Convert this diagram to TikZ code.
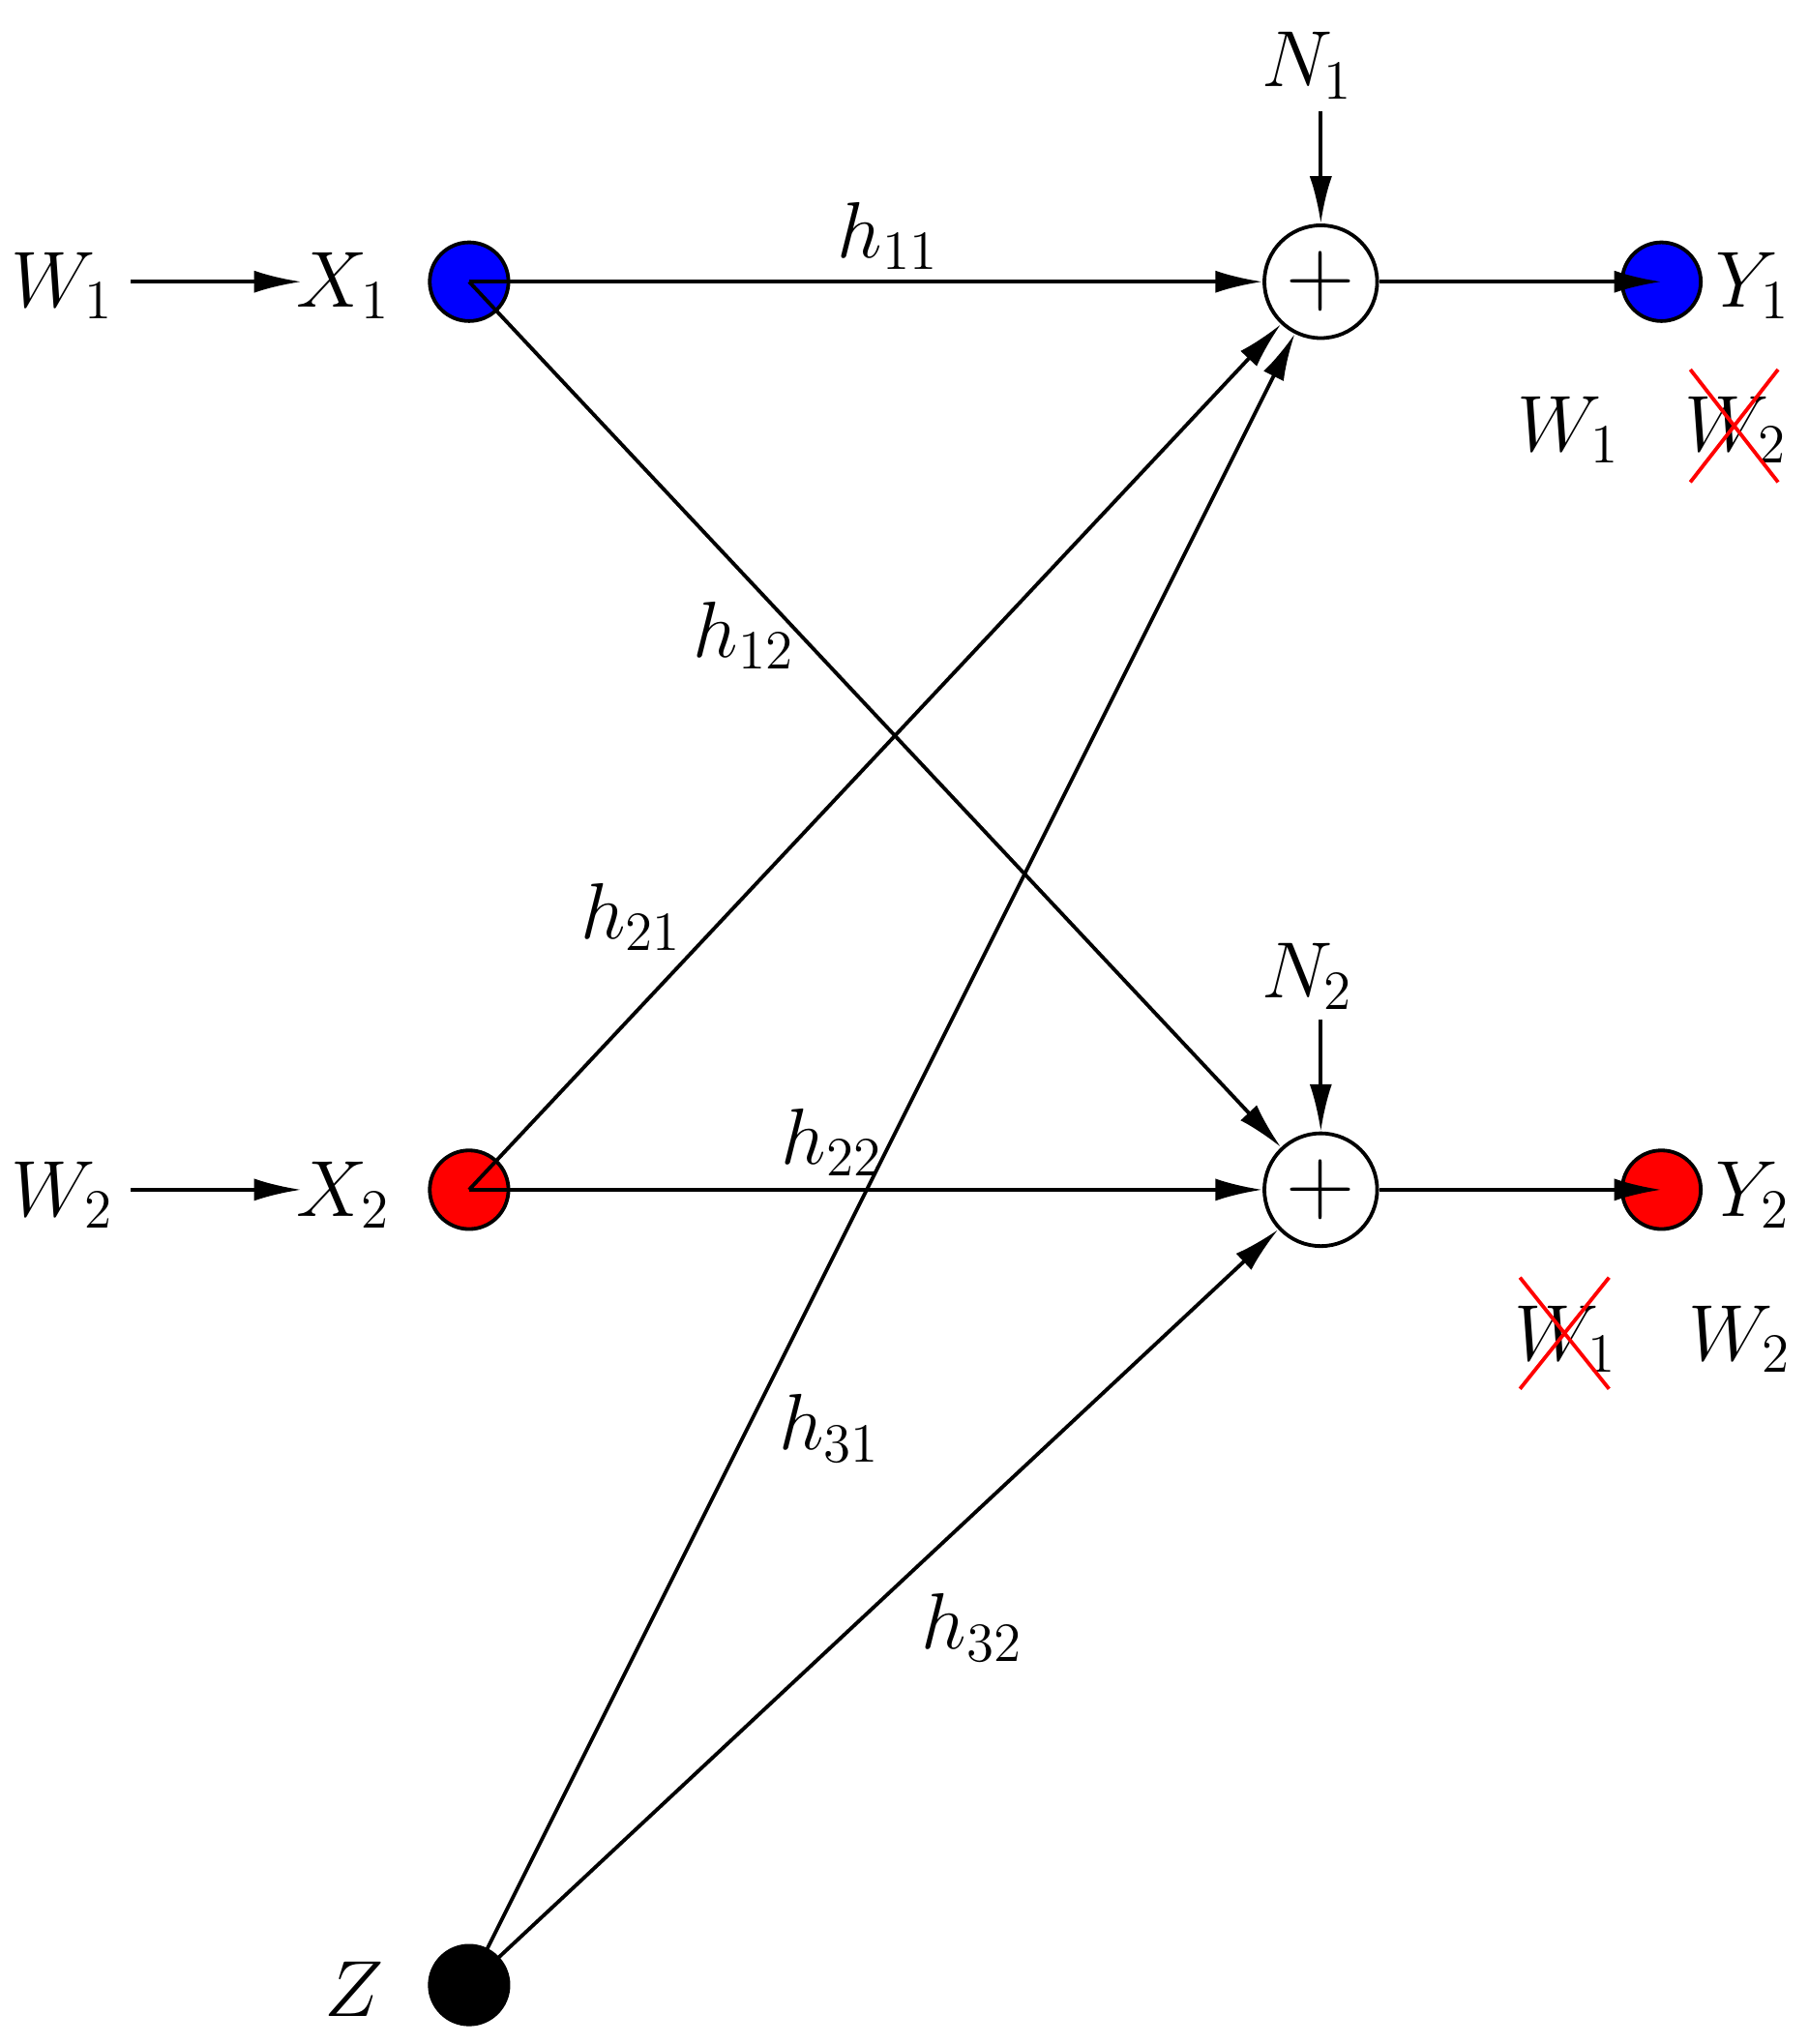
\documentclass[tikz,border=0pt]{standalone}
\usetikzlibrary{arrows.meta}
\begin{document}
\begin{tikzpicture}[x=0.01cm,y=-0.01cm,font=\LARGE,
  dot/.style={circle,draw,line width=0.8pt,minimum size=0.6cm,inner sep=0pt},
  sumnode/.style={circle,draw,line width=0.8pt,minimum size=0.86cm,inner sep=0pt,fill=white},
  arr/.style={line width=0.8pt,-{Latex[length=0.36cm,width=0.17cm]}},
  edge/.style={line width=0.8pt},
  xcross/.style={red,line width=0.8pt}]
\useasboundingbox (0,0) rectangle (1380,1560);
\node[dot,fill=blue] (x1) at (358,215) {};
\node[dot,fill=red] (x2) at (358,908) {};
\node[dot,fill=black] (z) at (358,1515) {};
\node[sumnode] (s1) at (1008,215) {\huge$+$};
\node[sumnode] (s2) at (1008,908) {\huge$+$};
\node[dot,fill=blue] (y1) at (1268,215) {};
\node[dot,fill=red] (y2) at (1268,908) {};
\node (w1) at (48,218) {$W_1$};
\node (w2) at (48,912) {$W_2$};
\node (lx1) at (262,218) {$X_1$};
\node (lx2) at (262,912) {$X_2$};
\node (lz) at (270,1518) {$Z$};
\node (n1) at (998,50) {$N_1$};
\node (n2) at (998,745) {$N_2$};
\node (ly1) at (1338,218) {$Y_1$};
\node (ly2) at (1338,912) {$Y_2$};
\node (a1) at (1197,328) {$W_1$};
\node (a2) at (1325,328) {$W_2$};
\node (b1) at (1195,1022) {$W_1$};
\node (b2) at (1328,1022) {$W_2$};
\node at (678,180) {$h_{11}$};
\node at (568,485) {$h_{12}$};
\node at (482,700) {$h_{21}$};
\node at (635,872) {$h_{22}$};
\node at (633,1090) {$h_{31}$};
\node at (742,1242) {$h_{32}$};
\coordinate (w1e) at (100,215); \coordinate (w1f) at (230,215);
\coordinate (w2e) at (100,908); \coordinate (w2f) at (230,908);
\draw[arr] (w1e) -- (w1f);
\draw[arr] (w2e) -- (w2f);
\coordinate (n1e) at (1008,85); \coordinate (n2e) at (1008,778);
\draw[arr] (n1e) -- (s1);
\draw[arr] (n2e) -- (s2);
\draw[arr] (x1.center) -- (s1);
\draw[arr] (x1.center) -- (s2);
\draw[arr] (x2.center) -- (s1);
\draw[arr] (x2.center) -- (s2);
\draw[arr] (z.center) -- (s1);
\draw[arr] (z.center) -- (s2);
\draw[arr] (s1) -- (y1.center);
\draw[arr] (s2) -- (y2.center);
\draw[xcross] (1290,282) -- (1357,368) (1290,368) -- (1357,282);
\draw[xcross] (1160,975) -- (1228,1060) (1160,1060) -- (1228,975);
\end{tikzpicture}
\end{document}
